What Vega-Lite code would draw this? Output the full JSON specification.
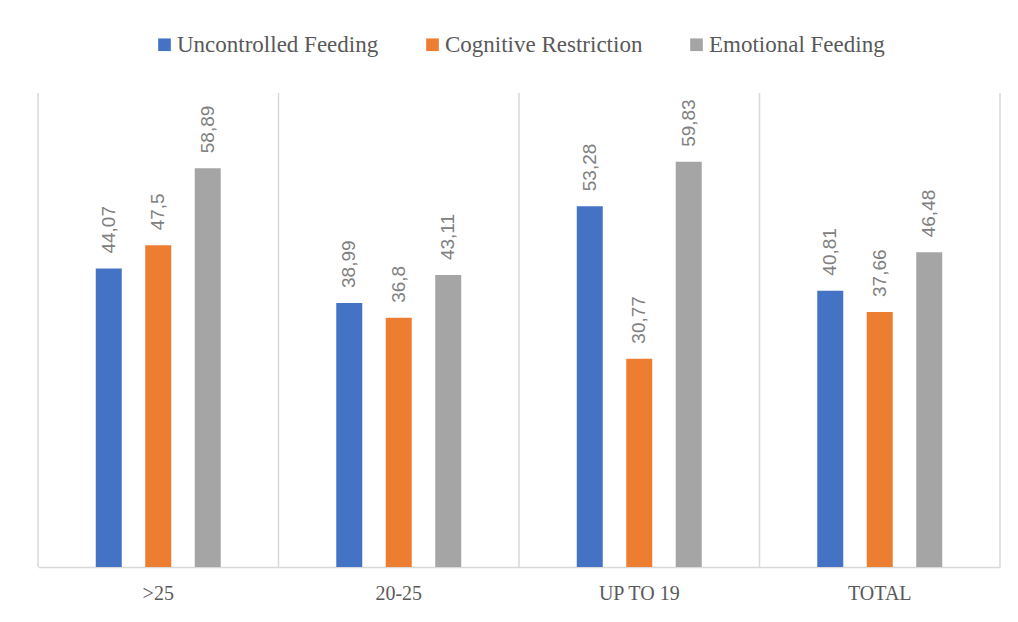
{
  "$schema": "https://vega.github.io/schema/vega-lite/v6.json",
  "width": 962,
  "height": 474,
  "autosize": {"type": "none"},
  "padding": {"left": 38, "top": 93, "right": 18, "bottom": 55},
  "background": "white",
  "config": {
    "view": {"stroke": null},
    "legend": {"layout": {"top": {"anchor": "middle"}}}
  },
  "data": {
    "values": [
      {"cat": ">25", "series": "Uncontrolled Feeding", "value": 44.07, "label": "44,07"},
      {"cat": ">25", "series": "Cognitive Restriction", "value": 47.5, "label": "47,5"},
      {"cat": ">25", "series": "Emotional Feeding", "value": 58.89, "label": "58,89"},
      {"cat": "20-25", "series": "Uncontrolled Feeding", "value": 38.99, "label": "38,99"},
      {"cat": "20-25", "series": "Cognitive Restriction", "value": 36.8, "label": "36,8"},
      {"cat": "20-25", "series": "Emotional Feeding", "value": 43.11, "label": "43,11"},
      {"cat": "UP TO 19", "series": "Uncontrolled Feeding", "value": 53.28, "label": "53,28"},
      {"cat": "UP TO 19", "series": "Cognitive Restriction", "value": 30.77, "label": "30,77"},
      {"cat": "UP TO 19", "series": "Emotional Feeding", "value": 59.83, "label": "59,83"},
      {"cat": "TOTAL", "series": "Uncontrolled Feeding", "value": 40.81, "label": "40,81"},
      {"cat": "TOTAL", "series": "Cognitive Restriction", "value": 37.66, "label": "37,66"},
      {"cat": "TOTAL", "series": "Emotional Feeding", "value": 46.48, "label": "46,48"}
    ]
  },
  "layer": [
    {
      "data": {"values": [{"cat": ">25"}, {"cat": "20-25"}, {"cat": "UP TO 19"}, {"cat": "TOTAL"}]},
      "mark": {"type": "rule", "color": "#d9d9d9", "strokeWidth": 1.5},
      "encoding": {
        "x": {"field": "cat", "type": "nominal", "bandPosition": 0,
              "scale": {"domain": [">25", "20-25", "UP TO 19", "TOTAL"], "paddingInner": 0, "paddingOuter": 0},
              "axis": {"title": null, "labelAngle": 0, "ticks": false, "domainColor": "#d9d9d9", "domainWidth": 1.5,
                       "labelFont": "Liberation Serif", "labelFontSize": 20, "labelColor": "#595959", "labelPadding": 16}}
      }
    },
    {
      "data": {"values": [{"cat": "TOTAL"}]},
      "mark": {"type": "rule", "color": "#d9d9d9", "strokeWidth": 1.5},
      "encoding": {
        "x": {"field": "cat", "type": "nominal", "bandPosition": 1}
      }
    },
    {
      "mark": {"type": "bar", "width": 26},
      "encoding": {
        "x": {"field": "cat", "type": "nominal"},
        "xOffset": {"field": "series", "type": "nominal",
                    "scale": {"domain": ["Uncontrolled Feeding", "Cognitive Restriction", "Emotional Feeding"], "paddingInner": 0.14, "paddingOuter": 1}},
        "y": {"field": "value", "type": "quantitative", "scale": {"domain": [0, 70], "nice": false}, "axis": null},
        "color": {"field": "series", "type": "nominal",
                  "scale": {"domain": ["Uncontrolled Feeding", "Cognitive Restriction", "Emotional Feeding"], "range": ["#4472C4", "#ED7D31", "#A5A5A5"]},
                  "legend": {"title": null, "orient": "top", "direction": "horizontal", "symbolType": "square", "symbolSize": 160,
                             "symbolStrokeWidth": 0, "labelFont": "Liberation Serif", "labelFontSize": 23, "labelColor": "#595959",
                             "labelOffset": 1, "columnPadding": 42, "offset": 36, "labelLimit": 400}}
      }
    },
    {
      "mark": {"type": "text", "angle": 270, "align": "left", "baseline": "middle", "dx": 15,
               "font": "Liberation Sans", "fontSize": 19, "color": "#808080"},
      "encoding": {
        "x": {"field": "cat", "type": "nominal"},
        "xOffset": {"field": "series", "type": "nominal"},
        "y": {"field": "value", "type": "quantitative"},
        "text": {"field": "label", "type": "nominal"}
      }
    }
  ]
}
